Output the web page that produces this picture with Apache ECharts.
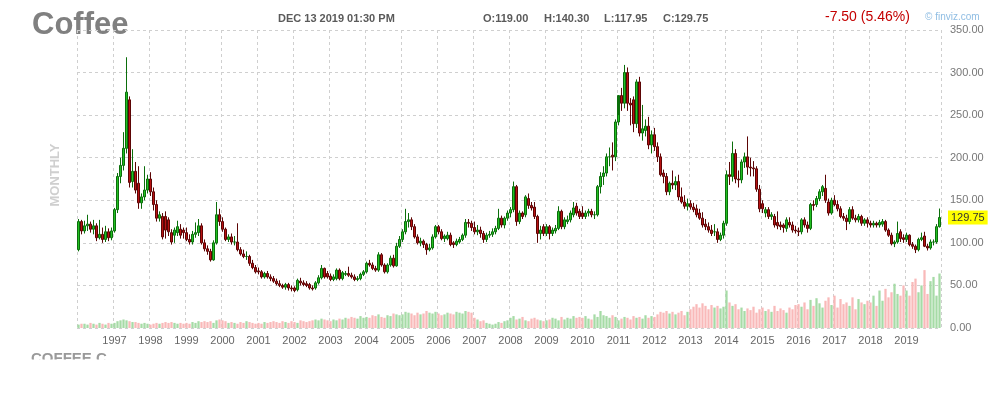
<!DOCTYPE html>
<html>
<head>
<meta charset="utf-8">
<script src="https://cdn.jsdelivr.net/npm/echarts@6/dist/echarts.min.js"></script>
<style>
html,body{margin:0;padding:0;background:#fff;}
#chart{width:993px;height:400px;}
</style>
</head>
<body>
<div id="chart"></div>
<script>
// ---- data (monthly, Jan 1996 .. Dec 2019) ----
const years = [1996,1997,1998,1999,2000,2001,2002,2003,2004,2005,2006,2007,2008,2009,2010,2011,2012,2013,2014,2015,2016,2017,2018,2019];

const opens = [
  92,125,114,120,122,116,120,106,110,104,113,106,
  114,139,178,191,211,268,172,184,170,147,154,162,
  175,160,145,129,131,131,127,112,109,112,116,115,
  112,104,101,110,112,120,100,93,90,80,100,133,
  125,116,104,107,101,101,92,87,84,84,76,71,
  67,66,60,64,60,58,55,52,50,48,51,47,
  47,45,55,53,52,51,47,47,53,59,70,64,
  61,57,58,68,58,63,64,62,60,57,58,63,
  66,76,74,70,68,86,74,66,74,82,73,96,
  104,113,125,127,119,107,100,102,98,92,94,107,
  119,113,105,105,109,100,98,101,104,109,124,123,
  118,113,115,111,104,109,110,113,117,129,121,129,
  135,139,166,125,135,133,152,144,142,131,111,119,
  111,119,111,114,117,137,119,125,127,133,143,137,
  135,131,135,137,133,133,166,178,182,201,203,201,
  242,273,264,300,264,268,240,289,229,232,237,215,
  227,213,201,182,178,160,170,168,172,154,148,143,
  146,142,140,135,129,122,119,115,113,113,104,109,
  123,180,178,205,175,174,195,201,189,188,187,163,
  146,135,139,131,131,124,121,121,117,124,121,115,
  114,113,127,121,117,145,145,152,160,164,148,135,
  150,145,140,131,129,125,139,129,127,131,123,127,
  123,121,123,121,122,125,115,109,99,101,113,106,
  104,109,98,96,92,104,108,96,94,101,101,119
];
const highs = [
  128,127,126,133,125,127,123,127,118,120,117,118,
  141,182,200,230,318,272,210,195,190,158,190,180,
  183,165,150,137,135,137,130,116,118,126,122,118,
  118,110,114,124,128,123,104,97,93,103,148,140,
  130,118,110,111,108,123,95,92,90,86,80,74,
  71,68,66,67,63,61,58,56,52,53,53,50,
  49,58,59,56,55,53,50,55,62,74,71,67,
  64,63,70,70,67,67,72,65,63,61,65,68,
  78,80,77,73,89,88,76,76,85,86,100,108,
  116,140,135,130,122,110,106,104,100,99,110,121,
  121,116,110,113,112,102,105,107,111,128,128,126,
  125,121,119,114,112,114,117,120,140,132,131,138,
  142,172,168,138,137,156,158,148,148,133,120,122,
  122,121,118,121,143,139,130,132,138,148,147,140,
  143,138,140,140,137,168,183,190,205,212,218,245,
  250,282,309,306,270,272,292,295,262,245,248,232,
  235,218,205,186,182,172,185,178,180,165,156,152,
  150,147,145,140,136,128,124,121,122,117,112,126,
  185,195,219,210,185,198,206,225,200,196,190,168,
  150,142,142,136,134,137,125,123,130,130,125,120,
  118,129,130,125,147,150,155,163,168,180,152,153,
  156,150,143,135,133,142,143,133,134,133,129,130,
  126,126,125,127,128,127,117,112,103,125,116,110,
  112,110,101,98,106,112,113,99,104,104,122,140.3
];
const lows = [
  90,110,111,114,112,110,102,104,100,101,102,103,
  112,135,170,185,205,165,165,158,140,140,150,158,
  155,138,125,125,104,105,108,98,100,108,105,105,
  102,98,98,106,108,98,90,86,78,79,98,120,
  113,102,101,98,97,90,85,82,80,73,69,64,
  63,58,58,58,55,53,50,48,46,45,44,43,
  42,43,50,49,48,45,44,45,51,57,58,58,
  55,55,56,56,56,61,60,58,55,55,56,61,
  64,72,68,66,66,72,64,64,72,71,72,94,
  101,110,118,115,105,98,96,94,86,90,92,105,
  110,103,101,103,96,94,96,99,102,106,118,114,
  110,109,106,100,101,106,107,110,115,118,117,126,
  130,136,120,122,128,130,140,138,128,100,104,108,
  108,104,108,111,115,116,116,122,124,130,132,128,
  128,128,131,130,128,131,158,168,178,190,185,196,
  238,255,258,255,238,230,235,225,220,225,210,205,
  208,195,178,170,156,156,163,162,150,146,140,138,
  139,136,130,127,118,115,112,108,108,100,102,105,
  120,168,172,170,165,170,188,180,178,178,160,136,
  135,130,128,127,118,116,115,112,113,118,112,111,
  108,110,118,112,115,138,142,149,155,147,132,133,
  143,137,129,126,115,122,127,124,124,120,120,118,
  118,118,118,118,119,113,107,97,95,99,101,100,
  101,96,93,88,90,102,95,91,92,97,99,117.95
];
const closes = [
  125,114,120,122,116,120,106,110,104,113,106,114,
  139,178,191,211,277,171,184,162,147,154,162,175,
  160,145,129,133,107,115,113,101,115,119,109,112,
  104,101,110,112,120,100,93,90,80,100,133,125,
  116,104,107,101,101,92,87,84,84,76,71,66,
  66,60,64,60,58,55,52,50,48,51,47,46,
  44,56,53,51,50,47,46,53,59,70,60,60,
  57,60,68,58,65,64,62,60,57,58,63,66,
  76,74,70,68,86,74,66,74,82,73,96,104,
  113,125,127,119,107,100,102,98,92,94,107,119,
  113,105,108,109,98,98,102,104,109,124,123,118,
  113,115,111,104,109,110,113,117,129,121,129,135,
  139,166,125,135,131,154,144,141,131,111,115,111,
  119,111,115,117,137,119,127,127,135,141,135,131,
  131,135,137,133,133,166,178,182,201,201,201,242,
  273,264,300,264,262,240,289,229,234,237,215,227,
  213,201,180,178,160,170,168,172,154,148,143,146,
  142,139,133,129,121,119,115,111,113,104,109,123,
  180,178,205,175,174,195,201,189,188,187,163,140,
  140,139,131,133,121,120,119,118,127,121,115,114,
  113,127,121,117,145,144,152,160,166,150,135,150,
  145,140,131,129,125,139,129,127,131,123,127,123,
  121,123,121,124,125,115,109,99,101,111,105,104,
  109,98,96,92,104,106,96,94,101,101,119,129.75
];
// volume, drawn in price-axis units as in the picture
const volumes = [
  4,5,5,4,6,5,4,6,5,4,6,5,
  6,8,9,10,9,8,7,7,6,5,6,5,
  4,5,6,5,6,7,6,7,6,5,6,5,
  6,5,7,6,8,7,8,7,8,6,9,10,
  9,8,6,7,6,5,7,6,8,7,6,5,
  6,5,7,6,7,8,7,6,8,7,6,8,
  7,6,9,8,7,8,9,10,9,11,10,9,
  8,10,9,11,10,12,11,13,12,11,14,12,
  13,12,15,14,16,13,12,15,14,17,16,15,
  16,19,18,17,15,18,16,17,20,18,17,19,
  17,15,16,18,17,16,19,18,17,20,19,18,
  12,10,8,9,6,5,4,5,7,6,8,9,
  12,14,10,11,13,9,8,11,12,10,9,8,
  9,10,12,11,9,13,10,12,11,14,12,13,
  12,14,11,10,16,13,20,15,14,12,15,13,
  9,11,13,12,10,14,12,13,11,15,12,14,
  13,16,19,18,20,17,19,16,18,20,15,19,
  22,25,28,24,29,26,22,27,24,26,23,25,
  44,30,26,28,22,24,20,23,21,25,18,22,
  24,20,22,19,26,20,23,21,18,24,22,27,
  28,25,30,22,33,26,35,29,24,32,36,27,
  38,24,34,28,30,26,36,22,34,30,28,32,
  30,38,26,44,32,46,36,42,52,40,38,50,
  44,38,54,58,42,50,68,40,55,60,38,64
];
const monthCodes = ['01','02','03','04','05','06','07','08','09','10','11','12'];
const lastPrice = 129.75;
const yTicks = {min:0, max:350, step:50};

// ---- build library tables ----
const cats = [];
years.forEach(y => monthCodes.forEach(m => cats.push(y + '-' + m)));
const candleData = cats.map((c, i) => [opens[i], closes[i], lows[i], highs[i]]);
const volData = cats.map((c, i) => ({
  value: volumes[i],
  itemStyle: {color: closes[i] >= opens[i] ? '#a6dba6' : '#f9b9b9'}
}));

const chart = echarts.init(document.getElementById('chart'), null, {renderer: 'canvas'});
const FONT = 'Arial, "Liberation Sans", sans-serif';
chart.setOption({
  animation: false,
  backgroundColor: '#ffffff',
  grid: {left: 77, right: 52, top: 30, bottom: 72},
  xAxis: {
    type: 'category',
    data: cats,
    boundaryGap: true,
    axisLine: {show: false},
    axisTick: {show: false},
    axisLabel: {
      interval: (i, v) => v.endsWith('-01') && !v.startsWith(String(years[0])),
      formatter: v => v.slice(0, 4),
      color: '#666', fontSize: 11, fontFamily: FONT, margin: 7
    },
    splitLine: {
      show: true,
      interval: (i, v) => v.endsWith('-01'),
      lineStyle: {type: [3, 3], color: '#cfcfcf', width: 1}
    }
  },
  yAxis: {
    type: 'value',
    position: 'right',
    min: yTicks.min, max: yTicks.max, interval: yTicks.step,
    axisLine: {show: false},
    axisTick: {show: false},
    axisLabel: {
      formatter: v => v.toFixed(2),
      color: '#777', fontSize: 11, fontFamily: FONT, margin: 9
    },
    splitLine: {show: true, lineStyle: {type: [3, 3], color: '#cfcfcf', width: 1}}
  },
  series: [
    {
      type: 'bar',
      data: volData,
      barCategoryGap: '25%',
      z: 1,
      silent: true
    },
    {
      type: 'candlestick',
      data: candleData,
      barWidth: 3,
      z: 3,
      itemStyle: {
        color: '#22c022', borderColor: '#0b6e0b',
        color0: '#b81212', borderColor0: '#5c0505',
        borderWidth: 1
      },
      markLine: {
        silent: true,
        symbol: ['none', 'none'],
        animation: false,
        lineStyle: {color: 'rgba(255,255,255,0)', width: 1, type: 'solid'},
        label: {
          show: true,
          position: 'end',
          formatter: lastPrice.toFixed(2),
          backgroundColor: '#ffff00',
          color: '#333',
          fontSize: 11,
          fontFamily: FONT,
          padding: [2, 3, 1, 3],
          distance: 7
        },
        data: [{yAxis: lastPrice}]
      }
    }
  ],
  graphic: [
    {type: 'text', left: 32, top: 10, style: {text: 'Coffee', font: 'bold 31px ' + FONT, fill: '#808080'}},
    {type: 'text', left: 278, top: 13, style: {text: 'DEC 13 2019 01:30 PM', font: 'bold 11px ' + FONT, fill: '#5a5a5a'}},
    {type: 'text', left: 483, top: 13, style: {text: 'O:119.00', font: 'bold 11px ' + FONT, fill: '#5a5a5a'}},
    {type: 'text', left: 544, top: 13, style: {text: 'H:140.30', font: 'bold 11px ' + FONT, fill: '#5a5a5a'}},
    {type: 'text', left: 604, top: 13, style: {text: 'L:117.95', font: 'bold 11px ' + FONT, fill: '#5a5a5a'}},
    {type: 'text', left: 663, top: 13, style: {text: 'C:129.75', font: 'bold 11px ' + FONT, fill: '#5a5a5a'}},
    {type: 'text', left: 825, top: 10, style: {text: '-7.50 (5.46%)', font: '14px ' + FONT, fill: '#c40000'}},
    {type: 'text', left: 925, top: 12, style: {text: '\u00a9 finviz.com', font: '10px ' + FONT, fill: '#8fbde3'}},
    {type: 'text', x: 55, y: 175, rotation: Math.PI / 2,
      style: {text: 'MONTHLY', font: 'bold 13px ' + FONT, fill: '#cfcfcf', align: 'center', verticalAlign: 'middle'}},
    {type: 'text', left: 31, top: 351, z: 1, style: {text: 'COFFEE C', font: 'bold 15px ' + FONT, fill: '#9a9a9a'}},
    {type: 'rect', shape: {x: 0, y: 359.5, width: 300, height: 40}, z: 2, style: {fill: '#ffffff'}}
  ]
});
</script>
</body>
</html>
